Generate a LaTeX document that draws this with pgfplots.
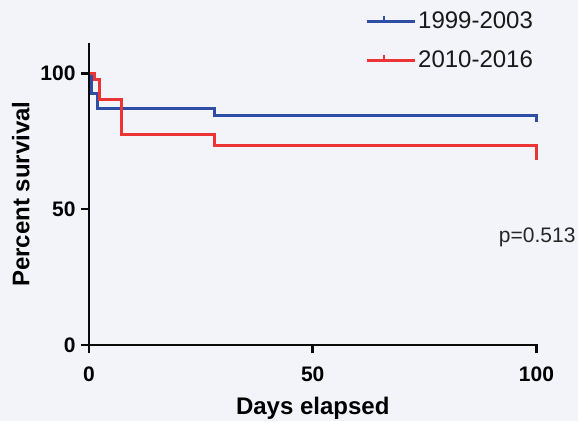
\documentclass[border=0pt]{standalone}
\usepackage{pgfplots}
\pgfplotsset{compat=1.18}
\usepackage{fontspec}
\setmainfont{Liberation Sans}
\definecolor{bg}{RGB}{243,244,250}
\definecolor{kmblue}{RGB}{46,78,165}
\definecolor{kmred}{RGB}{236,52,52}
\definecolor{axblack}{RGB}{10,10,10}
\begin{document}
\begin{tikzpicture}
\fill[bg,use as bounding box] (0pt,0pt) rectangle (578pt,-421pt);
\begin{axis}[
  at={(89pt,-345pt)}, anchor=south west,
  scale only axis, width=447.5pt, height=301.7pt,
  xmin=0, xmax=100, ymin=0, ymax=111,
  axis x line*=bottom, axis y line*=left,
  axis line style={line width=2.8pt, black},
  xtick={0,50,100}, ytick={0,50,100},
  tick align=outside, major tick length=8pt,
  xtick style={line width=2.6pt, black},
  ytick style={line width=2.6pt, black},
  tick label style={font=\bfseries\fontsize{21}{21}\selectfont},
  xticklabel style={yshift=-10pt},
  yticklabel style={xshift=-2pt},
  /pgf/number format/assume math mode=true,
  xlabel={Days elapsed}, ylabel={Percent survival},
  label style={font=\bfseries\fontsize{24}{24}\selectfont},
  xlabel style={yshift=-9pt},
  ylabel style={yshift=4pt},
  clip=false,
  legend style={at={(0.610,1.118)}, anchor=north west, draw=none, fill=none,
    font=\fontsize{24}{24}\selectfont, row sep=17pt, text=black!90},
  legend cell align=left,
  legend image code/.code={
    \path (0pt,0pt) -- (48pt,0pt);
    \draw[#1] (0pt,0pt) -- (34pt,0pt);
    \draw[#1, line width=2pt] (17pt,0pt) -- (17pt,5pt);
  },
]
\addplot[kmblue, line width=3pt, line join=miter] coordinates {
  (0,100) (0.6,100) (0.6,92.6) (1.9,92.6) (1.9,87) (28,87) (28,84.6) (100,84.6) (100,82)
};
\addlegendentry{1999-2003}
\addplot[kmred, line width=3pt, line join=miter] coordinates {
  (0,100) (1.3,100) (1.3,97.5) (2.3,97.5) (2.3,90.4) (7.2,90.4) (7.2,77.5) (28,77.5) (28,73.5) (100,73.5) (100,68)
};
\addlegendentry{2010-2016}
\node[anchor=east, font=\fontsize{21}{21}\selectfont, text=black!85] at (axis cs:109.5,39.7) {p=0.513};
\end{axis}
% axis lines and ticks as filled bars in page coordinates
\fill[axblack] (87.6pt,-43.3pt) rectangle (90.4pt,-346.4pt);
\fill[axblack] (87.6pt,-343.6pt) rectangle (537.9pt,-346.4pt);
\fill[axblack] (87.7pt,-345pt) rectangle (90.3pt,-353pt);
\fill[axblack] (311.45pt,-345pt) rectangle (314.05pt,-353pt);
\fill[axblack] (535.2pt,-345pt) rectangle (537.8pt,-353pt);
\fill[axblack] (81pt,-343.7pt) rectangle (89pt,-346.3pt);
\fill[axblack] (81pt,-207.8pt) rectangle (89pt,-210.4pt);
\fill[axblack] (81pt,-71.9pt) rectangle (89pt,-74.5pt);
\end{tikzpicture}
\end{document}
